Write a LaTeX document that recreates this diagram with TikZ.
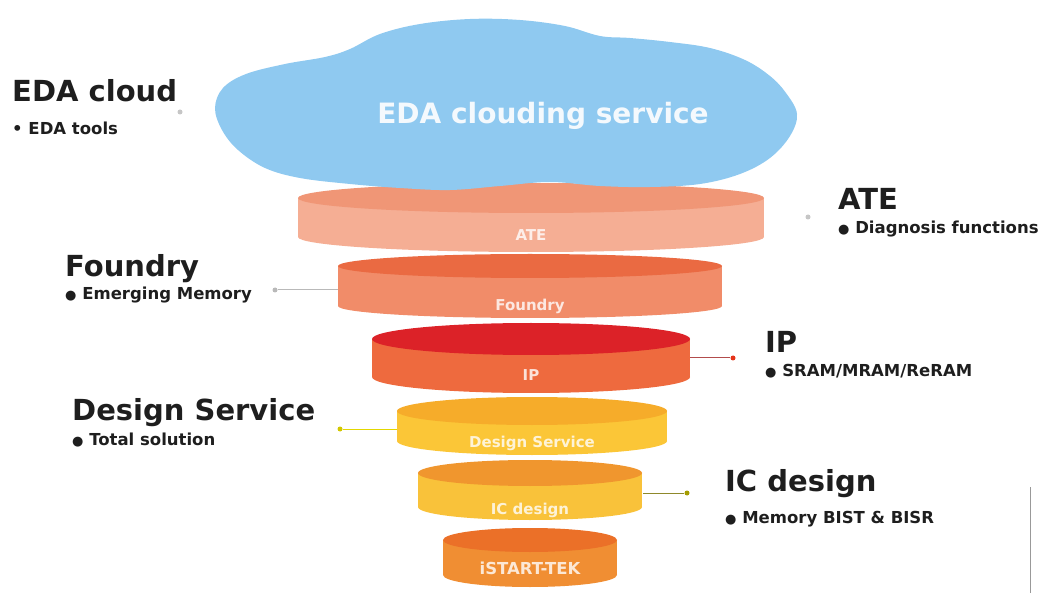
\documentclass[tikz,border=0pt]{standalone}
\usepackage{fontspec}
\setmainfont{DejaVu Sans}
\usepackage{graphicx}
\usepackage{tikz}
\usetikzlibrary{positioning}

\definecolor{cloudblue}{HTML}{8FC9F0}
\definecolor{ateBody}{HTML}{F5AE94}
\definecolor{ateTop}{HTML}{F09676}
\definecolor{fndBody}{HTML}{F18C69}
\definecolor{fndTop}{HTML}{EA6A42}
\definecolor{ipBody}{HTML}{EE6A3E}
\definecolor{ipTop}{HTML}{DC2228}
\definecolor{dsBody}{HTML}{FBC637}
\definecolor{dsTop}{HTML}{F6AC2A}
\definecolor{icBody}{HTML}{F9C23A}
\definecolor{icTop}{HTML}{F0962E}
\definecolor{stBody}{HTML}{F08E33}
\definecolor{stTop}{HTML}{EB7028}
\definecolor{inkgray}{HTML}{1E1E1E}

\newcommand{\bigdot}{{\fontsize{13}{13}\selectfont ●}}

\tikzset{
  head/.style={anchor=base west, inner sep=0pt, text=inkgray,
    font=\fontsize{29}{29}\selectfont\bfseries},
  sub/.style={anchor=base west, inner sep=0pt, text=inkgray,
    font=\fontsize{16.5}{16.5}\selectfont\bfseries},
  disclabel/.style={inner sep=0pt, text=white, text opacity=0.8,
    font=\fontsize{15}{15}\selectfont\bfseries},
  pin/.style={circle, inner sep=0pt, minimum size=5pt, fill=#1},
  lead/.style={line width=1pt, draw=#1},
}

\begin{document}
\begin{tikzpicture}[x=1pt, y=-1pt]
  \useasboundingbox (0,0) rectangle (1052,593);

  % discs, top to bottom
  \foreach \n/\cx/\yt/\yb/\rx/\ry/\bc/\tc/\ly/\t in {
      ate/531/198/237/233/15/ateBody/ateTop/235/ATE,
      fnd/530/266/306/192/12/fndBody/fndTop/306/Foundry,
      ip/531/339/377/159/16/ipBody/ipTop/375/IP,
      ds/532/411/441/135/14/dsBody/dsTop/443/Design Service,
      ic/530/473/507/112/13/icBody/icTop/510/IC design,
      st/530/540/575/87/12/stBody/stTop/568/{\fontsize{16.5}{16.5}\selectfont iSTART-TEK}} {
    \fill[\bc] (\cx,\yb) ellipse [x radius=\rx pt, y radius=\ry pt];
    \fill[\bc] (\cx-\rx,\yt) rectangle (\cx+\rx,\yb);
    \fill[\tc] (\cx,\yt) ellipse [x radius=\rx pt, y radius=\ry pt];
    \node[disclabel] (\n) at (\cx,\ly) {\t};
  }

  \fill[cloudblue] plot[smooth cycle, tension=0.6] coordinates {
    (215,108) (223,88) (246,74) (285,64) (325,57) (350,49) (380,34)
    (420,24) (470,19) (520,20) (565,26) (600,36) (630,38) (670,42)
    (710,48) (745,60) (770,76) (786,93) (797,114) (790,136) (770,158)
    (740,174) (700,184) (650,187) (600,186) (550,182) (500,186)
    (450,190) (400,188) (350,184) (300,178) (265,168) (238,150) (222,130)};
  \node[inner sep=0pt, text=white, text opacity=0.9,
    font=\fontsize{28}{28}\selectfont\bfseries] (cloud) at (543,116) {EDA clouding service};

  \coordinate (fndW) at (338,290);
  \coordinate (ipE) at (690,358);
  \coordinate (dsW) at (397,429);
  \coordinate (icE) at (643,493);

  \node[head] (edaH) at (12,102) {EDA cloud};
  \node[sub] (edaS) at (12,135) {• EDA tools};
  \node[pin=gray!45] (edaP) at (180,112) {};

  \node[head] (ateH) at (838,210) {ATE};
  \node[sub] (ateS) at (838,234) {\bigdot{} Diagnosis functions};
  \node[pin=gray!45] (ateP) at (808,217) {};

  \node[head] (fndH) at (65,277) {Foundry};
  \node[sub] (fndS) at (65,300) {\bigdot{} Emerging Memory};
  \node[pin=gray!55] (fndP) at (275,290) {};
  \draw[lead=gray!55] (fndP) -- (fndW);

  \node[head] (ipH) at (765,353) {IP};
  \node[sub] (ipS) at (765,377) {\bigdot{} SRAM/MRAM/ReRAM};
  \node[pin={red!60!brown}] (ipP) at (733,358) {};
  \draw[lead={red!40!gray}] (ipE) -- (ipP);

  \node[head] (dsH) at (72,420) {Design Service};
  \node[sub] (dsS) at (72,445) {\bigdot{} Total solution};
  \node[pin={yellow!60!olive}] (dsP) at (340,429) {};
  \draw[lead={yellow!75!olive}] (dsP) -- (dsW);

  \node[head] (icH) at (725,491) {IC design};
  \node[sub] (icS) at (725,523) {\bigdot{} Memory BIST \& BISR};
  \node[pin={olive!80!yellow}] (icP) at (687,493) {};
  \draw[lead={olive!70!gray}] (icE) -- (icP);

  \draw[gray!80, line width=1pt] (1030,487) -- (1030,593);
\end{tikzpicture}
\end{document}
